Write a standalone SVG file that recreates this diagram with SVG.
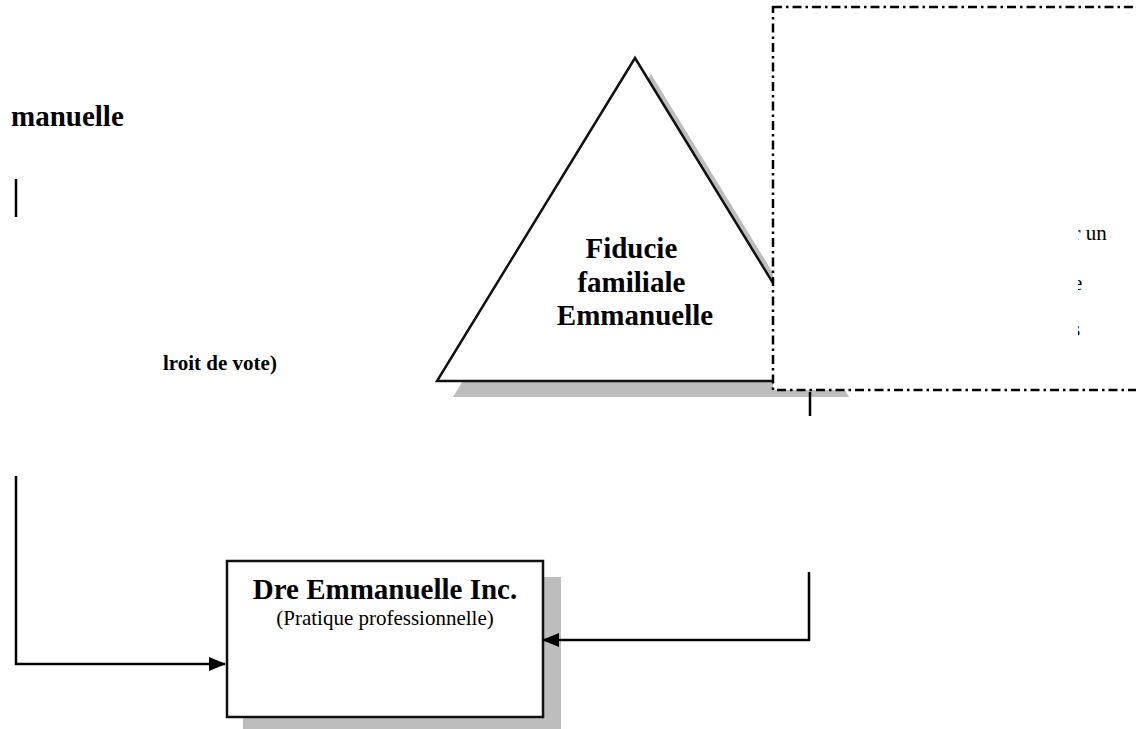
<svg xmlns="http://www.w3.org/2000/svg" width="1136" height="729" viewBox="0 0 1136 729">
  <style>
    .bold { font-family: "Liberation Serif", "Times New Roman", serif; font-weight: bold; fill: #000; }
    .reg { font-family: "Liberation Serif", "Times New Roman", serif; fill: #000; }
    .shadow { fill: #bdbdbd; stroke: none; }
    .shape { fill: #fff; stroke: #111; stroke-width: 2.5; }
    .conn { fill: none; stroke: #000; stroke-width: 2.5; }
    .dashbox { fill: #fff; stroke: #000; stroke-width: 2.5; stroke-dasharray: 9 4 2.5 4; }
  </style>
  <defs>
    <marker id="arrow" markerUnits="userSpaceOnUse" markerWidth="17" markerHeight="14" refX="16" refY="7" orient="auto">
      <path d="M0,0 L17,7 L0,14 z" fill="#000"/>
    </marker>
    <clipPath id="fragClip">
      <rect x="1078" y="0" width="100" height="729"/>
    </clipPath>
  </defs>
  <rect width="1136" height="729" fill="#fff"/>

  <g id="label-left">
    <text class="bold" x="11" y="126" font-size="29">manuelle</text>
    <text class="bold" x="163" y="370" font-size="21">lroit de vote)</text>
  </g>

  <g id="fiducie">
    <polygon class="shadow" points="651,74 453,397 849,397"/>
    <polygon class="shape" points="635,58 437,381 833,381" stroke-width="2"/>
    <text class="bold" font-size="29" text-anchor="middle">
      <tspan x="635" y="258">Fiducie</tspan>
      <tspan x="635" y="292">familiale</tspan>
      <tspan x="635" y="325">Emmanuelle</tspan>
    </text>
  </g>

  <g id="note-box">
    <rect class="dashbox" x="773" y="7" width="400" height="383"/>
    <g clip-path="url(#fragClip)">
      <text class="reg" x="1073.5" y="240" font-size="21">r un</text>
      <text class="reg" x="1073" y="290" font-size="21">e</text>
      <text class="reg" x="1072" y="336" font-size="21">s</text>
    </g>
  </g>

  <g id="dre-inc">
    <rect class="shadow" x="243" y="577" width="318" height="160"/>
    <rect class="shape" x="227" y="561" width="316" height="156"/>
    <text class="bold" x="385" y="599" font-size="29" text-anchor="middle">Dre Emmanuelle Inc.</text>
    <text class="reg" x="385" y="625" font-size="21" text-anchor="middle">(Pratique professionnelle)</text>
  </g>

  <g id="connectors">
    <path class="conn" d="M16,179 V217"/>
    <path class="conn" d="M16,476 V664 H225" marker-end="url(#arrow)"/>
    <path class="conn" d="M810,392 V416"/>
    <path class="conn" d="M809,572 V640 H543" marker-end="url(#arrow)"/>
  </g>
</svg>
